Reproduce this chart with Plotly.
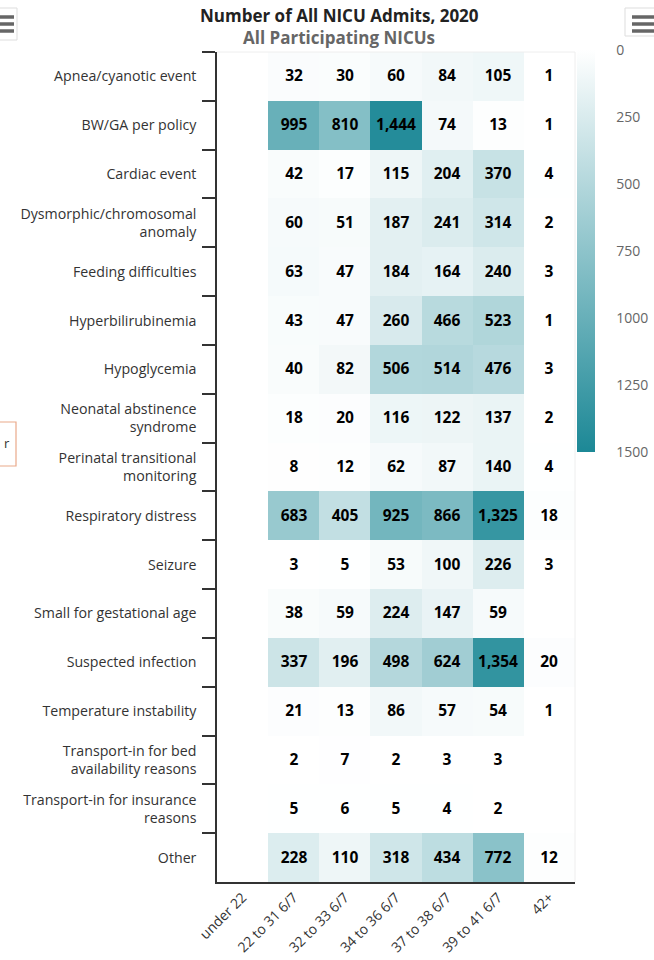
import plotly.graph_objects as go

# ---- data ----
reasons = [
    "Apnea/cyanotic event",
    "BW/GA per policy",
    "Cardiac event",
    "Dysmorphic/chromosomal<br>anomaly",
    "Feeding difficulties",
    "Hyperbilirubinemia",
    "Hypoglycemia",
    "Neonatal abstinence<br>syndrome",
    "Perinatal transitional<br>monitoring",
    "Respiratory distress",
    "Seizure",
    "Small for gestational age",
    "Suspected infection",
    "Temperature instability",
    "Transport-in for bed<br>availability reasons",
    "Transport-in for insurance<br>reasons",
    "Other",
]
age_groups = ["under 22", "22 to 31 6/7", "32 to 33 6/7", "34 to 36 6/7",
              "37 to 38 6/7", "39 to 41 6/7", "42+"]

under_22 = [None] * 17
ga_22_31 = [32, 995, 42, 60, 63, 43, 40, 18, 8, 683, 3, 38, 337, 21, 2, 5, 228]
ga_32_33 = [30, 810, 17, 51, 47, 47, 82, 20, 12, 405, 5, 59, 196, 13, 7, 6, 110]
ga_34_36 = [60, 1444, 115, 187, 184, 260, 506, 116, 62, 925, 53, 224, 498, 86, 2, 5, 318]
ga_37_38 = [84, 74, 204, 241, 164, 466, 514, 122, 87, 866, 100, 147, 624, 57, 3, 4, 434]
ga_39_41 = [105, 13, 370, 314, 240, 523, 476, 137, 140, 1325, 226, 59, 1354, 54, 3, 2, 772]
ga_42_up = [1, 1, 4, 2, 3, 1, 3, 2, 4, 18, 3, None, 20, 1, None, None, 12]

color_ticks = [0, 250, 500, 750, 1000, 1250, 1500]

columns = [under_22, ga_22_31, ga_32_33, ga_34_36, ga_37_38, ga_39_41, ga_42_up]

# rows x columns matrix
z = [[col[i] for col in columns] for i in range(len(reasons))]
text = [["" if v is None else f"{v:,}" for v in row] for row in z]
# colour axis runs 0 (top) -> 1500 (bottom): use negated values on the built-in scale
z_neg = [[None if v is None else -v for v in row] for row in z]

W, H = 654, 960
L, R, T, B = 217, 575, 52, 882   # plot area in pixels

def px(x):
    return (x - L) / (R - L)

def py(y):
    return (B - y) / (B - T)

TEAL = "rgb(28,136,150)"
FONT = "Open Sans"

fig = go.Figure()
fig.add_trace(go.Heatmap(
    x=age_groups,
    y=reasons,
    z=z_neg,
    text=text,
    texttemplate="<b>%{text}</b>",
    textfont=dict(family=FONT, size=15.5, color="#000000"),
    hovertemplate="%{y}<br>%{x}: %{text}<extra></extra>",
    colorscale=[[0, TEAL], [1, "#FFFFFF"]],
    zmin=-max(color_ticks), zmax=0,
    xgap=0, ygap=0,
    colorbar=dict(
        x=px(577), xanchor="left", xpad=0,
        y=py(50), yanchor="top", ypad=0,
        thickness=18,
        lenmode="pixels", len=402,
        outlinewidth=0,
        tickvals=[-v for v in color_ticks],
        ticktext=[str(v) for v in color_ticks],
        ticks="outside", ticklen=19, tickcolor="rgba(0,0,0,0)",
        tickfont=dict(family=FONT, size=14, color="#666666"),
    ),
))

shapes = []
# white grid lines on colour bar
for v in color_ticks[2:-1]:
    yy = 50 + (452 - 50) * v / 1500
    shapes.append(dict(type="line", xref="paper", yref="paper",
                       x0=px(577), x1=px(595), y0=py(yy), y1=py(yy),
                       line=dict(color="rgba(255,255,255,0.9)", width=1.5)))
# faint frame lines (top / right of plot)
shapes.append(dict(type="line", xref="paper", yref="paper", x0=0, x1=1, y0=1, y1=1,
                   line=dict(color="#eeeeee", width=1)))
shapes.append(dict(type="line", xref="paper", yref="paper", x0=1, x1=1, y0=0, y1=1,
                   line=dict(color="#eeeeee", width=1)))
# export buttons (hamburger icons)
shapes.append(dict(type="rect", xref="paper", yref="paper",
                   x0=px(-5), x1=px(17), y0=py(40), y1=py(8),
                   line=dict(color="#dddddd", width=1), fillcolor="white", layer="below"))
shapes.append(dict(type="rect", xref="paper", yref="paper",
                   x0=px(625), x1=px(662), y0=py(36), y1=py(8),
                   line=dict(color="#dddddd", width=1), fillcolor="white", layer="below"))
for yy in (17, 24, 31):
    shapes.append(dict(type="line", xref="paper", yref="paper",
                       x0=px(0), x1=px(14), y0=py(yy), y1=py(yy),
                       line=dict(color="#666666", width=3.5)))
    shapes.append(dict(type="line", xref="paper", yref="paper",
                       x0=px(632), x1=px(656), y0=py(yy), y1=py(yy),
                       line=dict(color="#666666", width=3.5)))
# tooltip remnant on left edge
shapes.append(dict(type="rect", xref="paper", yref="paper",
                   x0=px(-6), x1=px(16), y0=py(466), y1=py(422),
                   line=dict(color="#e9a98a", width=1.2), fillcolor="white"))

annotations = [
    dict(text="<b>Number of All NICU Admits, 2020</b>", xref="paper", yref="paper",
         x=px(339), y=py(16), xanchor="center", yanchor="middle", showarrow=False,
         font=dict(family=FONT, size=17, color="#222222")),
    dict(text="<b>All Participating NICUs</b>", xref="paper", yref="paper",
         x=px(339), y=py(38), xanchor="center", yanchor="middle", showarrow=False,
         font=dict(family=FONT, size=17, color="#666666")),
    dict(text="r", xref="paper", yref="paper", x=px(2), y=py(443),
         xanchor="left", yanchor="middle", showarrow=False,
         font=dict(family=FONT, size=13, color="#333333")),
]

fig.update_layout(
    width=W, height=H,
    margin=dict(l=L, r=W - R, t=T, b=H - B, pad=0, autoexpand=False),
    paper_bgcolor="white", plot_bgcolor="white",
    font=dict(family=FONT, color="#333333"),
    shapes=shapes,
    annotations=annotations,
    showlegend=False,
)
fig.update_xaxes(
    type="category", categoryorder="array", categoryarray=age_groups,
    automargin=False,
    showline=True, linecolor="#333333", linewidth=1.5,
    ticks="", tickangle=-45, showgrid=False, zeroline=False,
    tickfont=dict(family=FONT, size=14, color="#333333"),
)
fig.update_yaxes(
    type="category", categoryorder="array", categoryarray=reasons,
    autorange="reversed", automargin=False,
    showline=True, linecolor="#333333", linewidth=1.5,
    ticks="outside", tickson="boundaries", ticklen=13, tickcolor="#333333", tickwidth=1.5,
    ticklabelstandoff=16,
    showgrid=False, zeroline=False,
    tickfont=dict(family=FONT, size=14.2, color="#333333"),
)

fig.write_html(
    "out.html",
    config={"displayModeBar": False},
    post_script="document.body.style.margin='0';document.body.style.overflow='hidden';",
)
